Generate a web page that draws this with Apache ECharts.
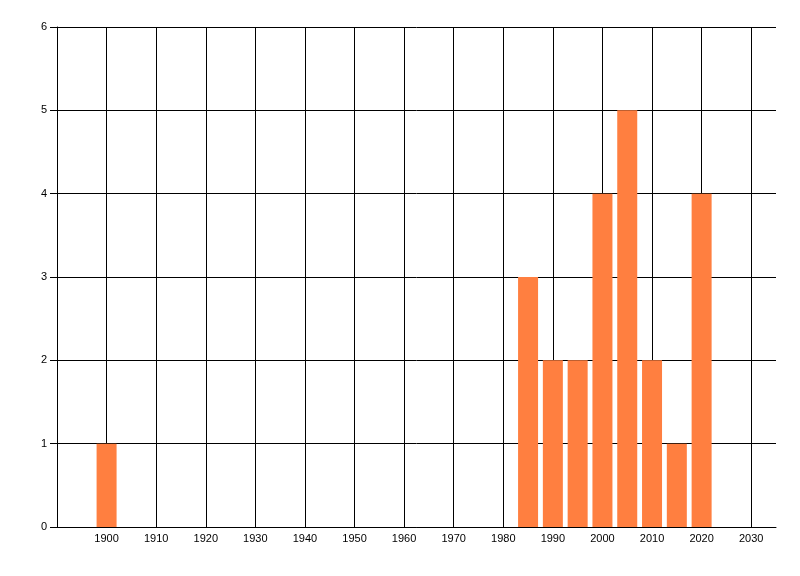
<!DOCTYPE html>
<html>
<head>
<meta charset="utf-8">
<script src="https://cdn.jsdelivr.net/npm/echarts@6/dist/echarts.min.js"></script>
<style>html,body{margin:0;padding:0;background:#fff}#c{width:800px;height:576px}</style>
</head>
<body>
<div id="c"></div>
<script>
var years = [1900, 1985, 1990, 1995, 2000, 2005, 2010, 2015, 2020];
var counts = [1, 3, 2, 2, 4, 5, 2, 1, 4];
var xTickLabels = ['1900','1910','1920','1930','1940','1950','1960','1970','1980','1990','2000','2010','2020','2030'];
var yTickLabels = ['0','1','2','3','4','5','6'];

var chart = echarts.init(document.getElementById('c'), null, {renderer: 'canvas'});
var font = 'Liberation Sans, Arial, sans-serif';
chart.setOption({
  animation: false,
  backgroundColor: '#fff',
  grid: {left: 57, right: 24, top: 27, bottom: 49, containLabel: false},
  xAxis: {
    type: 'value', min: 1890, max: 2035, interval: 10,
    axisLine: {show: true, lineStyle: {color: '#000', width: 1}},
    axisTick: {show: false},
    axisLabel: {
      color: '#000', fontSize: 11, fontFamily: font, margin: 6,
      showMinLabel: false, showMaxLabel: false,
      formatter: function (v) { var s = String(v); return xTickLabels.indexOf(s) >= 0 ? s : ''; }
    },
    splitLine: {show: true, showMinLine: false, showMaxLine: false, lineStyle: {color: '#000', width: 1}}
  },
  yAxis: {
    type: 'value', min: 0, max: 6, interval: 1,
    axisLine: {show: true, lineStyle: {color: '#000', width: 1}},
    axisTick: {show: true, length: 7, lineStyle: {color: '#000'}},
    axisLabel: {
      color: '#000', fontSize: 11, fontFamily: font, margin: 10,
      formatter: function (v) { return yTickLabels[v]; }
    },
    splitLine: {show: true, lineStyle: {color: '#000', width: 1}}
  },
  series: [{
    type: 'bar',
    barWidth: 20,
    itemStyle: {color: '#FF7F40'},
    data: years.map(function (y, i) { return [y, counts[i]]; })
  }]
});
</script>
</body>
</html>
